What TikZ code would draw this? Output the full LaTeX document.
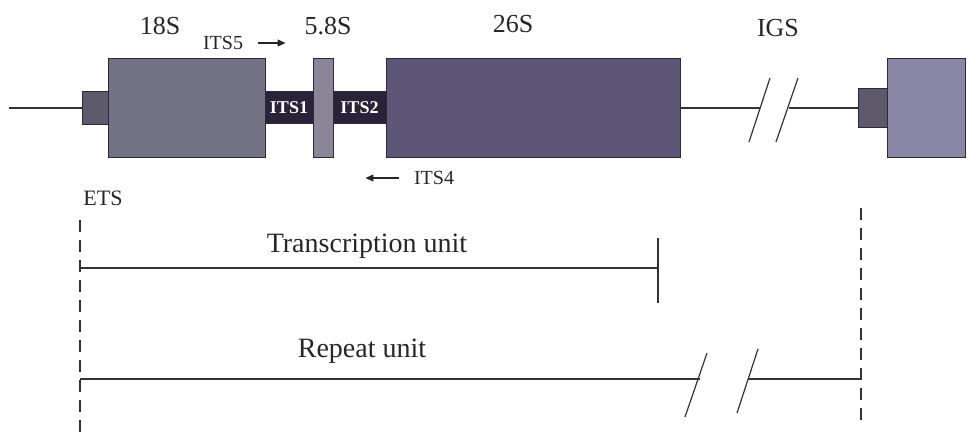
\documentclass[tikz,border=0pt]{standalone}
\usepackage{fontspec}
\setmainfont{Liberation Serif}
\usepackage{xcolor}
\usepackage{tikz}
\usetikzlibrary{arrows.meta,positioning}

\definecolor{etsgrey}{HTML}{5E5A6C}
\definecolor{ssu}{HTML}{737184}
\definecolor{fivepoint}{HTML}{8A8698}
\definecolor{lsu}{HTML}{5E5676}
\definecolor{spacerdark}{HTML}{2A2238}
\definecolor{nextunit}{HTML}{8A86A6}
\definecolor{edge}{HTML}{2A2A3A}

\begin{document}
\begin{tikzpicture}[
  x=1pt, y=-1pt,
  node distance=0pt,
  every node/.style={font=\fontsize{26}{30}\selectfont, text=black!85},
  block/.style={draw=edge, line width=1pt, inner sep=0pt, outer sep=0pt},
  spacer/.style={block, fill=spacerdark, minimum height=32pt, text=white,
                 font=\fontsize{18}{20}\selectfont\bfseries},
  primer/.style={font=\fontsize{20}{22}\selectfont},
  arrow/.style={-{Triangle[length=8pt,width=7pt]}, line width=1.1pt, draw=black!85},
  thin/.style={line width=1.2pt, draw=black!80},
  guide/.style={line width=1.2pt, draw=black!80, dash pattern=on 12pt off 8pt}
]
\useasboundingbox (0,0) rectangle (974,433);

% rDNA repeat
\node[block, fill=etsgrey, minimum width=26pt, minimum height=33pt] (ets) at (95,108) {};
\node[block, fill=ssu, minimum width=157pt, minimum height=98pt, right=of ets] (s18) {};
\node[spacer, minimum width=48pt, right=of s18] (its1) {ITS1};
\node[block, fill=fivepoint, minimum width=20pt, minimum height=98pt, right=of its1] (s58) {};
\node[spacer, minimum width=53pt, right=of s58] (its2) {ITS2};
\node[block, fill=lsu, minimum width=294pt, minimum height=99pt, right=of its2] (s26) {};
\node[block, fill=etsgrey, minimum width=29pt, minimum height=39pt] (ets2) at (872.5,108) {};
\node[block, fill=nextunit, minimum width=78pt, minimum height=99pt, right=of ets2] (s18b) {};

\coordinate (left) at (9,108);
\coordinate (igsa) at (760,108);
\coordinate (igsb) at (789,108);
\draw[thin] (left) -- (ets.west);
\draw[thin] (s26.east) -- (igsa);
\draw[thin] (igsb) -- (ets2.west);
\draw[thin] (770,78) -- (749,142);
\draw[thin] (798,78) -- (776,142);

% names
\node (n18) at (160,26) {18S};
\node (n58) at (328,26) {5.8S};
\node (n26) at (513,24) {26S};
\node (nigs) at (778,28) {IGS};
\node[primer] (its5) at (223,43) {ITS5};
\draw[arrow] ([xshift=11pt]its5.east) -- ++(28,0);
\node[primer] (its4) at (434,178) {ITS4};
\draw[arrow] ([xshift=-11pt]its4.west) -- ++(-34,0);
\node[font=\fontsize{22}{24}\selectfont] (etsl) at (103,198) {ETS};

% units
\coordinate (gl1) at (80,220);
\coordinate (gl2) at (80,433);
\coordinate (gr1) at (861,208);
\coordinate (gr2) at (861,424);
\draw[guide] (gl1) -- (gl2);
\draw[guide] (gr1) -- (gr2);

\coordinate (tus) at (80,268);
\coordinate (tue) at (658,268);
\draw[thin] (tus) -- (tue);
\draw[thin] (658,238) -- (658,303);
\node[font=\fontsize{28}{30}\selectfont] (tu) at (367,246) {Transcription unit};

\coordinate (rus) at (80,379);
\coordinate (rua) at (700,379);
\coordinate (rub) at (748,379);
\coordinate (rue) at (861,379);
\draw[thin] (rus) -- (rua);
\draw[thin] (rub) -- (rue);
\draw[thin] (707,353) -- (685,417);
\draw[thin] (758,349) -- (737,413);
\node[font=\fontsize{28}{30}\selectfont] (ru) at (362,351) {Repeat unit};
\end{tikzpicture}
\end{document}
